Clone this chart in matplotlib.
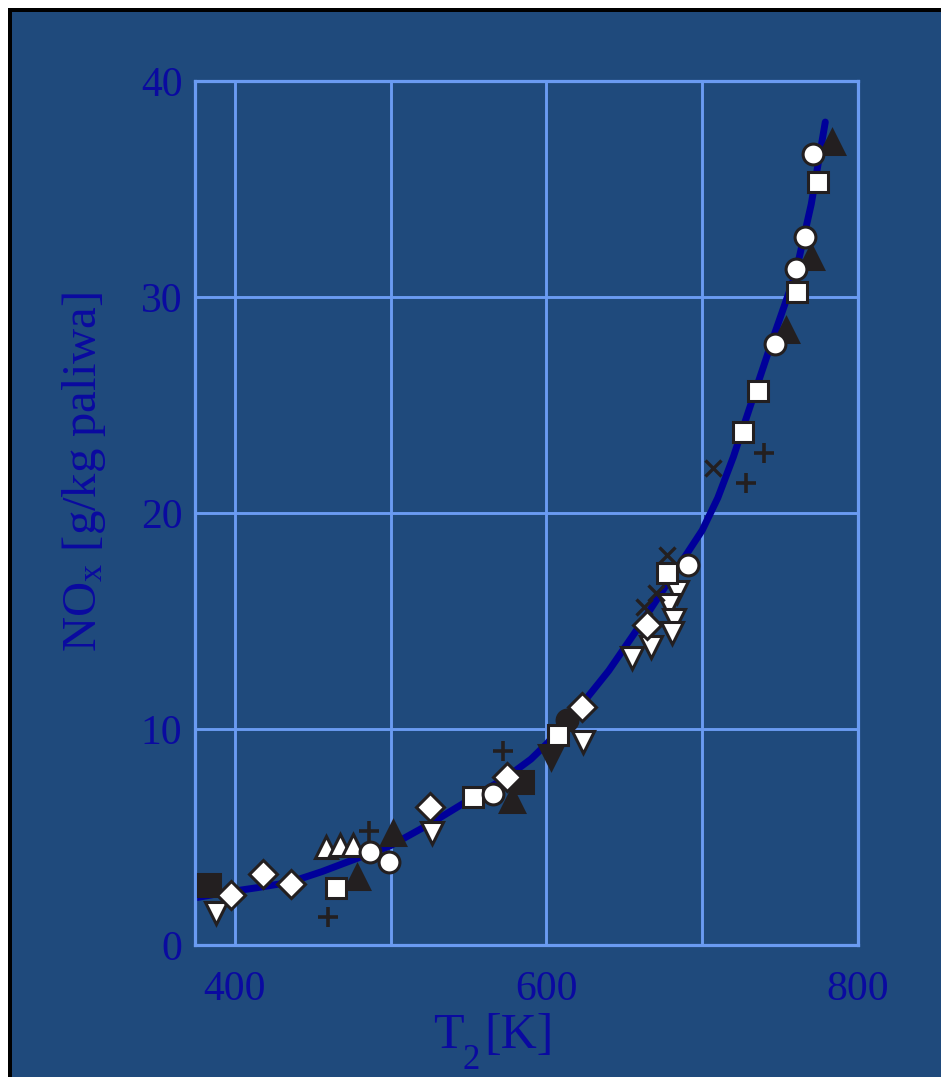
import matplotlib
matplotlib.use("Agg")
import matplotlib.pyplot as plt
from matplotlib.patches import Rectangle
from matplotlib.ticker import FixedLocator

plt.rcParams["font.family"] = ["Liberation Serif", "DejaVu Serif"]
plt.rcParams["mathtext.fontset"] = "custom"
plt.rcParams["mathtext.rm"] = "Liberation Serif"
plt.rcParams["mathtext.it"] = "Liberation Serif:italic"

# ---- data: T2 [K] vs NOx [g/kg fuel] ----
curve_T = [376, 395, 414, 435, 456, 478, 500, 525, 550, 575, 590, 600, 620,
           640, 660, 680, 700, 710, 720, 732, 745, 760, 770, 779]
curve_N = [2.2, 2.45, 2.65, 2.9, 3.4, 4.0, 4.6, 5.6, 6.7, 7.8, 8.6, 9.3, 10.9,
           12.7, 14.8, 17.0, 19.2, 20.7, 22.6, 25.2, 28.0, 31.1, 34.3, 38.1]

sq_fill_T = [383.3, 584.6]
sq_fill_N = [2.78, 7.55]

tri_up_fill_T = [501.3, 478.2, 577.6, 753.8, 769.9, 783.3]
tri_up_fill_N = [5.19, 3.15, 6.71, 28.47, 31.85, 37.18]

tri_dn_fill_T = [603.2]
tri_dn_fill_N = [8.70]

circ_fill_T = [613.5]
circ_fill_N = [10.42]

tri_dn_T = [387.8, 526.3, 623.7, 684.0, 678.8, 682.0, 680.8, 667.3, 655.1]
tri_dn_N = [1.48, 5.19, 9.40, 16.34, 15.74, 15.05, 14.44, 13.80, 13.29]

tri_up_T = [458.3, 467.3, 475.6]
tri_up_N = [4.54, 4.63, 4.63]

sq_T = [464.7, 552.6, 607.7, 677.6, 726.3, 735.9, 760.9, 774.4]
sq_N = [2.64, 6.85, 9.72, 17.22, 23.75, 25.65, 30.23, 35.32]

dia_T = [397.4, 417.9, 435.9, 525.0, 574.4, 623.1, 664.7]
dia_N = [2.31, 3.29, 2.82, 6.40, 7.78, 11.02, 14.81]

circ_T = [486.5, 498.7, 566.0, 691.0, 746.8, 760.3, 766.0, 771.2]
circ_N = [4.31, 3.84, 6.99, 17.59, 27.82, 31.30, 32.78, 36.62]

plus_T = [485.9, 459.6, 571.8, 739.7, 728.2]
plus_N = [5.28, 1.30, 8.98, 22.78, 21.39]

cross_T = [677.6, 670.5, 662.8, 707.0]
cross_N = [18.06, 16.30, 15.65, 22.08]

x_major = [400, 600, 800]
x_grid = [400, 500, 600, 700]
y_major = [0, 10, 20, 30, 40]
y_grid = [10, 20, 30]

# ---- style ----
BG = "#1F4A7C"
GRID = "#6A9BF2"
TXT = "#0A0AA0"
LINE = "#00009A"
EDGE = "#231F20"

W, H = 941, 1077
fig = plt.figure(figsize=(W / 100, H / 100), dpi=100, facecolor=BG)


def strip(x0, y0, w, h, color, z):
    """Rectangle given in pixels measured from the top-left corner."""
    fig.patches.append(Rectangle((x0 / W, 1 - (y0 + h) / H), w / W, h / H,
                                 transform=fig.transFigure, facecolor=color,
                                 edgecolor="none", zorder=z))


# white margin and black frame along the top and left edges
strip(0, 0, W, 8, "white", -9)
strip(0, 0, 8, H, "white", -9)
strip(8, 8, W - 8, 4, "black", -8)
strip(8, 8, 4, H - 8, "black", -8)

ax = fig.add_axes([195 / W, 132 / H, 663 / W, 864 / H])
ax.set_facecolor(BG)
ax.set_xlim(374.4, 800)
ax.set_ylim(0, 40)

ax.xaxis.set_major_locator(FixedLocator(x_major))
ax.yaxis.set_major_locator(FixedLocator(y_major))
for v in x_grid:
    ax.axvline(v, color=GRID, lw=2.1, zorder=0.5)
for v in y_grid:
    ax.axhline(v, color=GRID, lw=2.1, zorder=0.5)
for s in ax.spines.values():
    s.set_color(GRID)
    s.set_linewidth(2.3)

ax.tick_params(axis="both", which="both", length=0, labelsize=30, labelcolor=TXT)
ax.tick_params(axis="x", pad=18)
ax.tick_params(axis="y", pad=9)

ax.plot(curve_T, curve_N, color=LINE, lw=5, solid_capstyle="round", zorder=2)

common = dict(linestyle="none", markeredgecolor=EDGE, markeredgewidth=2.2, zorder=3)
ax.plot(sq_fill_T, sq_fill_N, marker="s", ms=15.5, markerfacecolor=EDGE, **common)
ax.plot(tri_up_fill_T, tri_up_fill_N, marker="^", ms=17.5, markerfacecolor=EDGE, **common)
ax.plot(tri_dn_fill_T, tri_dn_fill_N, marker="v", ms=17.5, markerfacecolor=EDGE, **common)
ax.plot(circ_fill_T, circ_fill_N, marker="o", ms=15, markerfacecolor=EDGE, **common)
ax.plot(tri_up_T, tri_up_N, marker="^", ms=16, markerfacecolor="white", **common)
ax.plot(tri_dn_T, tri_dn_N, marker="v", ms=16, markerfacecolor="white", **common)
ax.plot(sq_T, sq_N, marker="s", ms=14.5, markerfacecolor="white", **common)
ax.plot(dia_T, dia_N, marker="D", ms=14, markerfacecolor="white", **common)
ax.plot(circ_T, circ_N, marker="o", ms=15, markerfacecolor="white", **common)
ax.plot(plus_T, plus_N, linestyle="none", marker="+", ms=14, markeredgewidth=2.6,
        color=EDGE, zorder=4)
ax.plot(cross_T, cross_N, linestyle="none", marker="x", ms=11, markeredgewidth=2.4,
        color=EDGE, zorder=4)

# x-axis title "T2[K]" with a low, large subscript
def px_text(x, y_base, s, size):
    fig.text(x / W, (H - y_base) / H, s, fontsize=size, color=TXT,
             ha="left", va="baseline")

px_text(433, 1048, "T", 36)
px_text(462, 1069, "2", 25)
px_text(484, 1048, "[K]", 36)

ax.set_ylabel(r"NO$_\mathrm{x}$ [g/kg paliwa]", fontsize=35, color=TXT)
ax.yaxis.set_label_coords(-0.131, 0.547)

fig.savefig("out.png", dpi=100, facecolor=BG)
